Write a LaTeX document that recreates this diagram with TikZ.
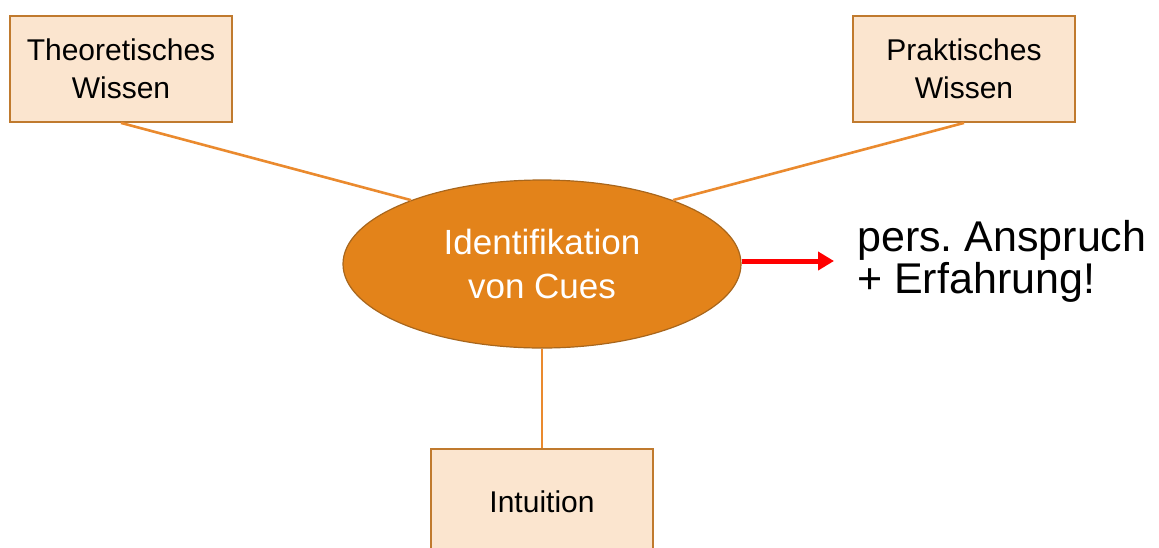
\documentclass[tikz,border=0pt]{standalone}
\usepackage{fontspec}
\setmainfont{Liberation Sans}
\usetikzlibrary{shapes.geometric,arrows.meta}
\definecolor{boxfill}{HTML}{FBE5CF}
\definecolor{boxline}{HTML}{C07A2E}
\definecolor{conn}{HTML}{EA8A2E}
\definecolor{ellfill}{HTML}{E3831A}
\definecolor{ellline}{HTML}{A8661C}
\begin{document}
\begin{tikzpicture}[x=1pt,y=-1pt,
  srcbox/.style={draw=boxline, line width=1.8pt, fill=boxfill, minimum width=222pt, minimum height=106pt, inner sep=0pt, align=center, font=\fontsize{30}{37.5}\selectfont},
  connline/.style={draw=conn, line width=2.6pt},
  cueell/.style={ellipse, draw=ellline, line width=1.2pt, fill=ellfill, minimum width=398pt, minimum height=168pt, inner sep=0pt, align=center, text=white, font=\fontsize{35}{44}\selectfont}]
\useasboundingbox (0,0) rectangle (1159,547);
\node[srcbox] (t) at (121,69) {Theoretisches\\Wissen};
\node[srcbox] (p) at (964,69) {Praktisches\\Wissen};
\node[srcbox] (i) at (542,502) {Intuition};
\node[cueell] (e) at (542,264) {Identifikation\\von Cues};
\draw[connline] (t.south) -- (e.154);
\draw[connline] (p.south) -- (e.26);
\draw[connline] (i.north) -- (e.south);
\coordinate (tip) at (834,261);
\draw[red, line width=5pt, -{Triangle[length=16pt,width=18pt]}] (e.east |- tip) -- (tip);
\node[anchor=base west, align=left, inner sep=0pt, font=\fontsize{43}{41.5}\selectfont] (txt) at (857,293) {pers.\ Anspruch\\+ Erfahrung!};
\end{tikzpicture}
\end{document}
